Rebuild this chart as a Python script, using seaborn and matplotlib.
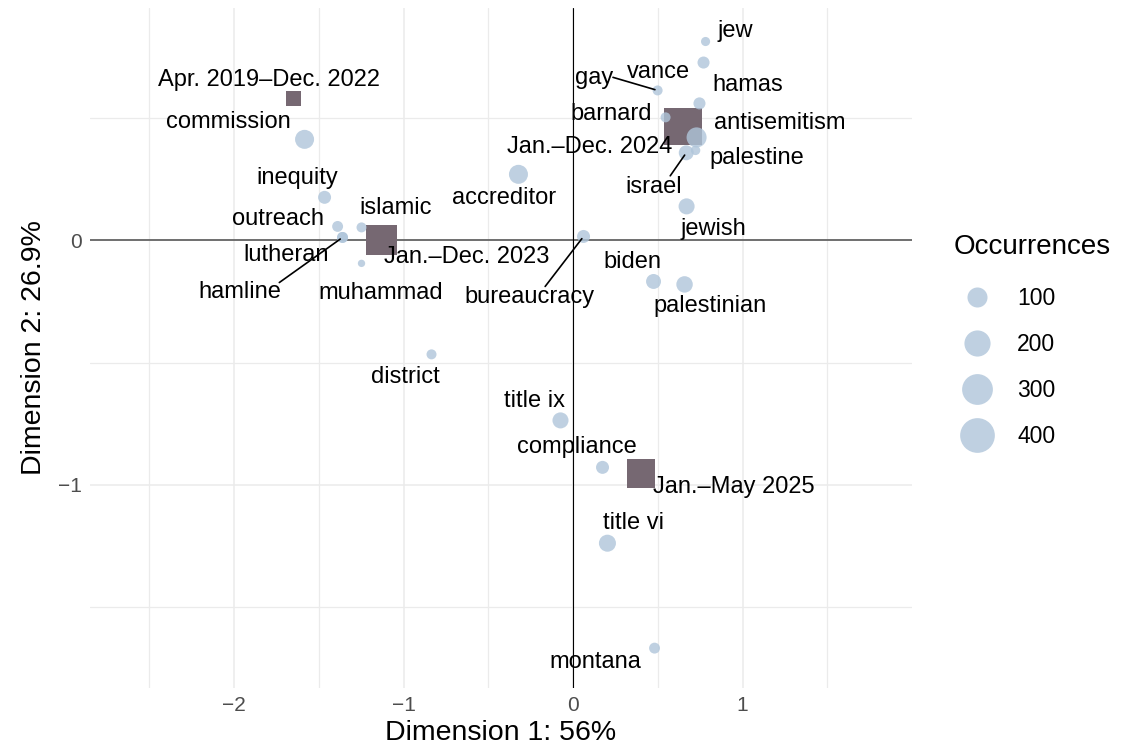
import numpy as np
import pandas as pd
import matplotlib
matplotlib.use("Agg")
import matplotlib.pyplot as plt
from matplotlib.lines import Line2D
import seaborn as sns

sns.set_style("white")
plt.rcParams["font.family"] = ["Liberation Sans", "DejaVu Sans"]

# words on the first two dimensions of the correspondence analysis
words = ["jew", "vance", "gay", "hamas", "barnard", "antisemitism", "palestine", "israel",
         "jewish", "accreditor", "bureaucracy", "biden", "palestinian", "commission",
         "inequity", "outreach", "islamic", "lutheran", "hamline", "muhammad", "district",
         "title ix", "compliance", "title vi", "montana"]
dim1 = [0.782, 0.770, 0.499, 0.746, 0.546, 0.729, 0.723, 0.668,
        0.670, -0.322, 0.062, 0.475, 0.658, -1.584,
        -1.466, -1.389, -1.248, -1.360, -1.360, -1.248, -0.835,
        -0.074, 0.174, 0.203, 0.481]
dim2 = [0.813, 0.727, 0.613, 0.560, 0.503, 0.421, 0.368, 0.358,
        0.139, 0.270, 0.016, -0.168, -0.180, 0.413,
        0.176, 0.057, 0.053, 0.012, 0.012, -0.094, -0.466,
        -0.736, -0.928, -1.238, -1.667]
occurrences = [10, 23, 13, 23, 13, 100, 11, 44,
               54, 87, 29, 44, 58, 87,
               29, 17, 13, 17, 17, 6, 13,
               54, 29, 64, 17]

# time periods (column points)
periods = ["Apr. 2019\u2013Dec. 2022", "Jan.\u2013Dec. 2023", "Jan.\u2013Dec. 2024", "Jan.\u2013May 2025"]
period_dim1 = [-1.649, -1.130, 0.649, 0.401]
period_dim2 = [0.580, 0.000, 0.466, -0.952]
period_occ = [62, 378, 635, 347]

legend_breaks = [100, 200, 300, 400]

# label offsets in pixels (repel layout)
label_offset = {
    "jew": (30, 11), "vance": (-45, -9), "gay": (-63, 12), "hamas": (48, 18),
    "barnard": (-54, 3), "antisemitism": (83, 14), "palestine": (61, -8),
    "israel": (-33, -34), "jewish": (27, -23), "accreditor": (-14, -24),
    "bureaucracy": (-54, -61), "biden": (-21, 19), "palestinian": (26, -22),
    "commission": (-76, 17), "inequity": (-27, 19), "outreach": (-60, 7),
    "islamic": (34, 19), "lutheran": (-56, -18), "hamline": (-103, -55),
    "muhammad": (19, -30), "district": (-26, -23), "title ix": (-26, 19),
    "compliance": (-26, 20), "title vi": (26, 20), "montana": (-59, -14),
    periods[0]: (-25, 19), periods[1]: (85, -17), periods[2]: (-93, -21),
    periods[3]: (93, -14),
}
# segments: where on the label box the line starts
segment_from = {"gay": (0.98, 0.55), "israel": (0.8, 1.0),
                "bureaucracy": (0.62, 1.0), "hamline": (0.98, 0.95)}

point_col = "#AFC5DA"
square_col = "#766872"


def diam_px(n):
    # ggplot-like area palette: diameter grows with sqrt of the rescaled count
    return 5.9 + 1.45 * np.sqrt(max(n - 5, 0))


def area_pt(d):
    return (d * 0.72) ** 2


word_df = pd.DataFrame({"word": words, "dim1": dim1, "dim2": dim2, "occ": occurrences})
period_df = pd.DataFrame({"period": periods, "dim1": period_dim1, "dim2": period_dim2,
                          "occ": period_occ})

word_sizes = {n: area_pt(diam_px(n)) for n in word_df["occ"].unique()}
period_sizes = {n: area_pt(0.886 * diam_px(n)) for n in period_df["occ"].unique()}

fig = plt.figure(figsize=(11.25, 7.46), dpi=100)
ax = fig.add_axes([90 / 1125, 1 - 688 / 746, (912 - 90) / 1125, (688 - 8) / 746])

ax.axhline(0, color="#4D4D4D", lw=1.1, zorder=1.5)
ax.axvline(0, color="black", lw=0.8, zorder=1.5)

sns.scatterplot(data=period_df, x="dim1", y="dim2", size="occ", sizes=period_sizes,
                marker="s", color=square_col, linewidth=0, legend=False, ax=ax, zorder=2)
sns.scatterplot(data=word_df, x="dim1", y="dim2", size="occ", sizes=word_sizes,
                color=point_col, alpha=0.8, linewidth=0, legend=False, ax=ax, zorder=3)

labels = list(zip(word_df["word"], word_df["dim1"], word_df["dim2"])) + \
    list(zip(period_df["period"], period_df["dim1"], period_df["dim2"]))
for txt, x, y in labels:
    dx, dy = label_offset[txt]
    kw = {}
    if txt in segment_from:
        kw["arrowprops"] = dict(arrowstyle="-", color="black", lw=1.2, shrinkA=0,
                                shrinkB=2, patchA=None, relpos=segment_from[txt])
    ax.annotate(txt, xy=(x, y), xytext=(dx, dy), textcoords="offset pixels",
                ha="center", va="center", fontsize=17, color="black", zorder=4, **kw)

ax.set_xlim(-2.85, 2.0)
ax.set_ylim(-1.83, 0.95)
ax.set_xticks([-2, -1, 0, 1])
ax.set_xticks([-2.5, -1.5, -0.5, 0.5, 1.5], minor=True)
ax.set_yticks([-1, 0])
ax.set_yticks([-1.5, -0.5, 0.5], minor=True)
ax.grid(which="major", color="#EBEBEB", lw=1.1, zorder=0)
ax.grid(which="minor", color="#EBEBEB", lw=0.9, zorder=0)
ax.set_axisbelow(True)
ax.tick_params(which="both", length=0, labelsize=15, labelcolor="#4D4D4D", pad=6)
sns.despine(ax=ax, left=True, bottom=True)

ax.set_xlabel("Dimension 1: 56%", fontsize=20.5, labelpad=3, color="black")
ax.set_ylabel("Dimension 2: 26.9%", fontsize=20.5, labelpad=8, color="black")

handles = [Line2D([0], [0], marker="o", ls="", markersize=diam_px(n) * 0.72,
                  markerfacecolor=point_col, markeredgewidth=0, alpha=0.8)
           for n in legend_breaks]
leg = fig.legend(handles, [str(n) for n in legend_breaks], title="Occurrences",
                 loc="upper left", bbox_to_anchor=(954 / 1125, 1 - 234 / 746),
                 frameon=False, fontsize=16.5, title_fontsize=20, labelspacing=1.0,
                 handletextpad=0.75, alignment="left", borderaxespad=0, borderpad=0)
leg._legend_box.sep += 3  # a bit more room under the title
leg.get_title().set_color("black")
for t in leg.get_texts():
    t.set_color("black")

fig.savefig("out.png", dpi=100)
